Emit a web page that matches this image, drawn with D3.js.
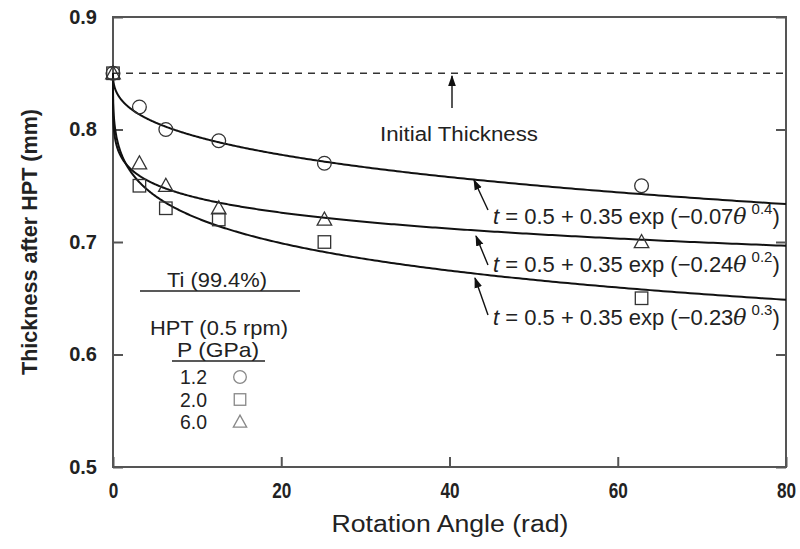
<!DOCTYPE html>
<html><head><meta charset="utf-8">
<script src="https://cdn.jsdelivr.net/npm/d3@7"></script>
<style>
body{margin:0;background:#fff;}
svg{display:block;font-family:"Liberation Sans",Arial,sans-serif;}
</style></head><body>
<svg id="chart" width="800" height="549"></svg>
<script>
// ---- data ----
const angles = [0, 3.14, 6.28, 12.57, 25.13, 62.83];
const p12 = [0.85, 0.82, 0.80, 0.79, 0.77, 0.75];   // circles, 1.2 GPa
const p20 = [0.85, 0.75, 0.73, 0.72, 0.70, 0.65];   // squares, 2.0 GPa
const p60 = [0.85, 0.77, 0.75, 0.73, 0.72, 0.70];   // triangles, 6.0 GPa
const fitA = [0.07, 0.24, 0.23];
const fitB = [0.4, 0.2, 0.3];
const fitLabels = ["0.07", "0.24", "0.23"];
const fitPowers = ["0.4", "0.2", "0.3"];
const xTicks = [0, 20, 40, 60, 80];
const yTicks = [0.5, 0.6, 0.7, 0.8, 0.9];
const initialThickness = 0.85;
const legendP = ["1.2", "2.0", "6.0"];
const legendShapes = ["circle", "square", "triangle"];

const svg = d3.select("#chart");
const m = {l:113, r:786, t:17, b:467};
const x = d3.scaleLinear().domain([0,80]).range([m.l, m.r]);
const y = d3.scaleLinear().domain([0.5,0.9]).range([m.b, m.t]);

const axisCol = "#555";
// frame
svg.append("rect").attr("x",m.l).attr("y",m.t).attr("width",m.r-m.l).attr("height",m.b-m.t)
  .attr("fill","none").attr("stroke",axisCol).attr("stroke-width",2);

const gx = svg.append("g").attr("transform",`translate(0,${m.b})`)
  .call(d3.axisBottom(x).tickValues(xTicks).tickSize(-10).tickPadding(15).tickFormat(d3.format("d")));
const gy = svg.append("g").attr("transform",`translate(${m.l},0)`)
  .call(d3.axisLeft(y).tickValues(yTicks).tickSize(-10).tickPadding(16).tickFormat(d3.format(".1f")));
const gr = svg.append("g").attr("transform",`translate(${m.r},0)`)
  .call(d3.axisRight(y).tickValues(yTicks).tickSize(-10).tickFormat(""));
[gx,gy,gr].forEach(g=>{
  g.select(".domain").remove();
  g.selectAll(".tick line").attr("stroke",axisCol).attr("stroke-width",2);
});
gy.selectAll(".tick text").attr("font-size",20).attr("font-weight","bold").attr("fill","#222")
  .attr("font-family","'Liberation Sans',Arial,sans-serif");
gx.selectAll(".tick text").attr("font-size",22).attr("fill","#222").attr("font-weight","bold")
  .attr("font-family","'Liberation Sans',Arial,sans-serif")
  .attr("transform","scale(0.78,1)");

// axis titles
svg.append("text").attr("transform","translate(37,242) rotate(-90)").attr("text-anchor","middle")
  .attr("font-size",22).attr("font-weight","bold").attr("fill","#222")
  .attr("textLength",266).attr("lengthAdjust","spacingAndGlyphs")
  .text("Thickness after HPT (mm)");
svg.append("text").attr("x",450).attr("y",532).attr("text-anchor","middle")
  .attr("font-size",23).attr("fill","#222").attr("font-weight","500")
  .attr("textLength",237).attr("lengthAdjust","spacingAndGlyphs")
  .text("Rotation Angle (rad)");

// dashed initial thickness
svg.append("line").attr("x1",x(0)).attr("x2",x(80)).attr("y1",y(initialThickness)).attr("y2",y(initialThickness))
  .attr("stroke","#333").attr("stroke-width",1.6).attr("stroke-dasharray","7,6");

// arrow marker
const defs = svg.append("defs");
defs.append("marker").attr("id","ah").attr("viewBox","0 0 10 10").attr("refX",9).attr("refY",5)
  .attr("markerWidth",11).attr("markerHeight",11).attr("markerUnits","userSpaceOnUse").attr("orient","auto")
  .append("path").attr("d","M0,1.5 L10,5 L0,8.5 Z").attr("fill","#111");

svg.append("line").attr("x1",452).attr("y1",108).attr("x2",452).attr("y2",76)
  .attr("stroke","#111").attr("stroke-width",1.4).attr("marker-end","url(#ah)");
svg.append("text").attr("x",380).attr("y",141).attr("font-size",20).attr("fill","#222")
  .attr("textLength",158).attr("lengthAdjust","spacingAndGlyphs").text("Initial Thickness");

// fitted curves (equations given in the chart)
const thetas = d3.range(0, 1.00001, 0.0025).map(u => 80*u*u*u);
const line = d3.line().x(d=>x(d[0])).y(d=>y(d[1]));
fitA.forEach((a,i)=>{
  const pts = thetas.map(t=>[t, 0.5 + 0.35*Math.exp(-a*Math.pow(t, fitB[i]))]);
  svg.append("path").attr("d",line(pts)).attr("fill","none").attr("stroke","#111").attr("stroke-width",2);
});

// equation labels and arrows
const eqPos = [{tx:493, ty:224, ax1:488, ay1:210, ax2:474, ay2:180},
               {tx:493, ty:272, ax1:488, ay1:265, ax2:476, ay2:236},
               {tx:493, ty:325, ax1:488, ay1:315, ax2:475, ay2:278}];
eqPos.forEach((p,i)=>{
  svg.append("line").attr("x1",p.ax1).attr("y1",p.ay1).attr("x2",p.ax2).attr("y2",p.ay2)
    .attr("stroke","#111").attr("stroke-width",1.4).attr("marker-end","url(#ah)");
  const t = svg.append("text").attr("x",p.tx).attr("y",p.ty).attr("font-size",22).attr("fill","#222");
  t.append("tspan").attr("font-style","italic").text("t");
  t.append("tspan").text(" = 0.5 + 0.35 exp (\u2212" + fitLabels[i]);
  t.append("tspan").attr("font-style","italic").attr("font-family","'DejaVu Serif',serif").text("\u03B8");
  t.append("tspan").attr("dx",5).attr("dy",-10).attr("font-size",15).text(fitPowers[i]);
  t.append("tspan").attr("dy",10).text(")");
});

// symbols
function sym(g, shape, cx, cy, col, s){
  if(shape==="circle") g.append("circle").attr("cx",cx).attr("cy",cy).attr("r",s*0.55)
    .attr("fill","none").attr("stroke",col).attr("stroke-width",1.3);
  else if(shape==="square") g.append("rect").attr("x",cx-s/2).attr("y",cy-s/2).attr("width",s).attr("height",s)
    .attr("fill","none").attr("stroke",col).attr("stroke-width",1.3);
  else g.append("path").attr("d",`M${cx},${cy-s*0.6} L${cx+s*0.58},${cy+s*0.45} L${cx-s*0.58},${cy+s*0.45} Z`)
    .attr("fill","none").attr("stroke",col).attr("stroke-width",1.3);
}
const gp = svg.append("g");
[p12,p20,p60].forEach((vals,i)=>{
  vals.forEach((v,j)=> sym(gp, legendShapes[i], x(angles[j]), y(v), "#333", 12.5));
});

// legend
const lg = svg.append("g").attr("fill","#222");
lg.append("text").attr("x",217).attr("y",287).attr("text-anchor","middle").attr("font-size",20)
  .attr("textLength",100).attr("lengthAdjust","spacingAndGlyphs").text("Ti (99.4%)");
lg.append("line").attr("x1",140).attr("x2",300).attr("y1",291).attr("y2",291).attr("stroke","#222").attr("stroke-width",1.6);
lg.append("text").attr("x",150).attr("y",335).attr("font-size",21)
  .attr("textLength",138).attr("lengthAdjust","spacingAndGlyphs").text("HPT (0.5 rpm)");
lg.append("text").attr("x",218).attr("y",357).attr("text-anchor","middle").attr("font-size",21)
  .attr("textLength",82).attr("lengthAdjust","spacingAndGlyphs").text("P (GPa)");
lg.append("line").attr("x1",172).attr("x2",265).attr("y1",361).attr("y2",361).attr("stroke","#222").attr("stroke-width",1.6);
legendP.forEach((lab,i)=>{
  lg.append("text").attr("x",180).attr("y",384+i*22.5).attr("font-size",21)
    .attr("textLength",27).attr("lengthAdjust","spacingAndGlyphs").text(lab);
  sym(lg, legendShapes[i], 240, 377+i*22.5, "#888", 11.5);
});
</script></body></html>
